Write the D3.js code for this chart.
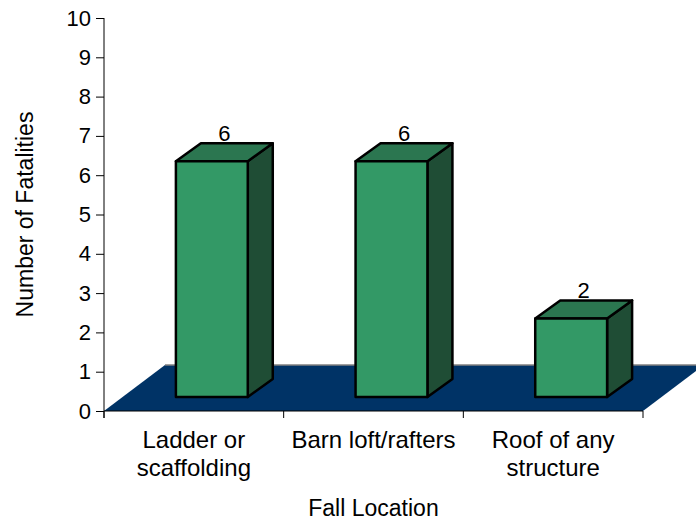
<!DOCTYPE html>
<html>
<head>
<meta charset="utf-8">
<script src="https://cdn.jsdelivr.net/npm/d3@7"></script>
<style>
  body { margin: 0; background: #fff; }
  text { font-family: Arial, "Liberation Sans", sans-serif; fill: #000; }
</style>
</head>
<body>
<div id="chart"></div>
<script>
// data
var categories = ["Ladder or scaffolding", "Barn loft/rafters", "Roof of any structure"];
var categoryLines = [["Ladder or", "scaffolding"], ["Barn loft/rafters"], ["Roof of any", "structure"]];
var fatalities = [6, 6, 2];
var yTicks = [0, 1, 2, 3, 4, 5, 6, 7, 8, 9, 10];

var width = 696, height = 520;

var svg = d3.select("#chart")
  .append("svg")
    .attr("width", width)
    .attr("height", height);

var x = d3.scaleBand()
  .domain(categories)
  .range([104, 643]);

var y = d3.scaleLinear()
  .domain([0, 10])
  .range([411, 18]);

// floor depth and bar depth (3d look)
var floorDx = 61, floorDy = -46;
var barOx = 18, barOy = -14;   // bars stand in the middle of the floor
var barDx = 25, barDy = -18;
var barW = x.bandwidth() * 0.4;

// floor
var x0 = x.range()[0], x1 = x.range()[1], y0 = y(0);
svg.append("polygon")
  .attr("points", [[x0, y0], [x1, y0], [x1 + floorDx, y0 + floorDy], [x0 + floorDx, y0 + floorDy]].join(" "))
  .attr("fill", "#003366");
svg.append("line")
  .attr("x1", x0 + floorDx).attr("x2", x1 + floorDx)
  .attr("y1", y0 + floorDy).attr("y2", y0 + floorDy)
  .attr("stroke", "#808080")
  .attr("stroke-width", 1.5);

// bars
var bars = svg.selectAll("g.bar")
  .data(categories)
  .enter()
  .append("g")
    .attr("class", "bar")
    .attr("transform", "translate(" + barOx + "," + barOy + ")");

bars.each(function(c, i) {
  var g = d3.select(this);
  var bx0 = x(c) + (x.bandwidth() - barW) / 2, bx1 = bx0 + barW;
  var top = y(fatalities[i]), bot = y(0);

  g.append("polygon")  // side
    .attr("points", [[bx1, top], [bx1 + barDx, top + barDy], [bx1 + barDx, bot + barDy], [bx1, bot]].join(" "))
    .attr("fill", "#1f4d35");
  g.append("polygon")  // top
    .attr("points", [[bx0, top], [bx0 + barDx, top + barDy], [bx1 + barDx, top + barDy], [bx1, top]].join(" "))
    .attr("fill", "#2b7650");
  g.append("rect")     // front
    .attr("x", bx0).attr("y", top)
    .attr("width", barW).attr("height", bot - top)
    .attr("fill", "#339966");
  g.selectAll("polygon, rect")
    .attr("stroke", "#000")
    .attr("stroke-width", 2.5)
    .attr("stroke-linejoin", "round");

  g.append("text")
    .attr("x", (bx0 + bx1) / 2 + barDx / 2)
    .attr("y", top + barDy - 2)
    .attr("text-anchor", "middle")
    .style("font-size", "22px")
    .text(fatalities[i]);
});

// y axis
var yAxis = svg.append("g")
  .attr("transform", "translate(104,0)")
  .call(d3.axisLeft(y).tickValues(yTicks).tickSize(8).tickPadding(5).tickSizeOuter(0));
yAxis.select(".domain").attr("d", "M0," + y(10) + "V" + (y(0) + 7)).attr("stroke", "#000");
yAxis.selectAll(".tick line").attr("stroke", "#000");
yAxis.selectAll("text")
  .style("font-size", "22px")
  .attr("fill", "#000");

// x axis line with ticks at band boundaries
var bounds = categories.map(function(c) { return x(c); }).concat([x1]);
svg.append("line")
  .attr("x1", x0).attr("x2", x1)
  .attr("y1", y0).attr("y2", y0)
  .attr("stroke", "#000");
svg.selectAll("line.xtick")
  .data(bounds)
  .enter()
  .append("line")
    .attr("class", "xtick")
    .attr("x1", function(d) { return d; }).attr("x2", function(d) { return d; })
    .attr("y1", y0).attr("y2", y0 + 7)
    .attr("stroke", "#000");

// category labels
svg.selectAll("text.cat")
  .data(categories)
  .enter()
  .append("text")
    .attr("class", "cat")
    .attr("text-anchor", "middle")
    .style("font-size", "24px")
    .each(function(c, i) {
      d3.select(this).selectAll("tspan")
        .data(categoryLines[i])
        .enter()
        .append("tspan")
          .attr("x", x(c) + x.bandwidth() / 2)
          .attr("y", function(d, j) { return 448 + j * 28; })
          .text(function(d) { return d; });
    });

// axis titles
svg.append("text")
  .attr("x", (x0 + x1) / 2)
  .attr("y", 516)
  .attr("text-anchor", "middle")
  .style("font-size", "23px")
  .text("Fall Location");

svg.append("text")
  .attr("transform", "translate(33," + (y(0) + y(10)) / 2 + ") rotate(-90)")
  .attr("text-anchor", "middle")
  .style("font-size", "23px")
  .text("Number of Fatalities");
</script>
</body>
</html>
